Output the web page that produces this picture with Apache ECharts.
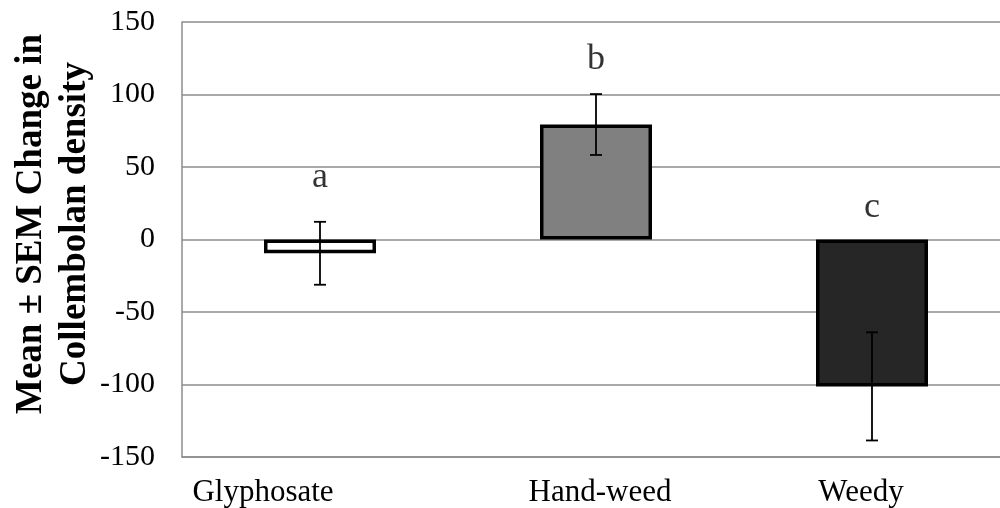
<!DOCTYPE html>
<html>
<head>
<meta charset="utf-8">
<script src="https://cdn.jsdelivr.net/npm/echarts@6/dist/echarts.min.js"></script>
<style>
  html, body { margin: 0; padding: 0; background: #fff; }
  #chart { width: 1000px; height: 508px; }
</style>
</head>
<body>
<div id="chart"></div>
<script>
// 处理组
const categories = ['Glyphosate', 'Hand-weed', 'Weedy'];
// 均值与标准误
const means = [-9.5, 79.3, -101.3];
const sems = [21.7, 21, 37.3];
// 显著性字母
const letters = ['a', 'b', 'c'];
const letterY = [43, 124, 22];
const barColors = ['#ffffff', '#808080', '#262626'];
const yTicks = { min: -150, max: 150, interval: 50 };

const serif = '"Liberation Serif", "Times New Roman", serif';
const chart = echarts.init(document.getElementById('chart'));

const option = {
  animation: false,
  grid: {
    left: 182,
    right: -10,
    top: 22,
    bottom: 51,
    outerBoundsMode: 'none',
  },
  xAxis: {
    type: 'category',
    data: categories,
    axisLine: { onZero: false, lineStyle: { color: '#8c8c8c', width: 1.5 } },
    axisTick: { show: false },
    axisLabel: {
      margin: 20,
      fontFamily: serif,
      fontSize: 31,
      color: '#000',
      formatter: (v, i) => `{c${i}|${v}}`,
      rich: {
        c0: { fontFamily: serif, fontSize: 31, color: '#000', padding: [0, 114, 0, 0] },
        c1: { fontFamily: serif, fontSize: 31, color: '#000', padding: [0, 0, 0, 8] },
        c2: { fontFamily: serif, fontSize: 31, color: '#000', padding: [0, 22, 0, 0] },
      },
    },
  },
  yAxis: {
    type: 'value',
    min: yTicks.min,
    max: yTicks.max,
    interval: yTicks.interval,
    axisLine: { show: true, lineStyle: { color: '#8c8c8c', width: 1.5 } },
    axisTick: { show: false },
    splitLine: { lineStyle: { color: '#8c8c8c', width: 1.5 } },
    axisLabel: {
      margin: 27,
      fontFamily: serif,
      fontSize: 30,
      color: '#000',
    },
  },
  graphic: [{
    type: 'text',
    x: 53,
    y: 224,
    rotation: Math.PI / 2,
    style: {
      text: 'Mean ± SEM Change in\nCollembolan density',
      font: `bold 37px ${serif}`,
      fill: '#000',
      align: 'center',
      verticalAlign: 'middle',
      lineHeight: 44,
    },
  }],
  series: [
    {
      type: 'bar',
      barWidth: 112,
      data: means.map((v, i) => ({
        value: v,
        itemStyle: { color: barColors[i] },
      })),
      itemStyle: { borderColor: '#000', borderWidth: 3.5 },
      z: 2,
    },
    {
      type: 'custom',
      data: means.map((m, i) => [i, m - sems[i], m + sems[i]]),
      renderItem(params, api) {
        const lo = api.coord([api.value(0), api.value(1)]);
        const hi = api.coord([api.value(0), api.value(2)]);
        const half = 6;
        const style = { stroke: '#000', lineWidth: 1.8 };
        return {
          type: 'group',
          children: [
            { type: 'line', shape: { x1: hi[0], y1: hi[1], x2: lo[0], y2: lo[1] }, style },
            { type: 'line', shape: { x1: hi[0] - half, y1: hi[1], x2: hi[0] + half, y2: hi[1] }, style },
            { type: 'line', shape: { x1: lo[0] - half, y1: lo[1], x2: lo[0] + half, y2: lo[1] }, style },
          ],
        };
      },
      z: 3,
    },
    {
      type: 'scatter',
      symbolSize: 0,
      data: letterY.map((y, i) => [i, y]),
      label: {
        show: true,
        position: 'inside',
        formatter: (p) => letters[p.dataIndex],
        fontFamily: serif,
        fontSize: 36,
        color: '#000',
      },
      z: 4,
    },
  ],
};

chart.setOption(option);
</script>
</body>
</html>
